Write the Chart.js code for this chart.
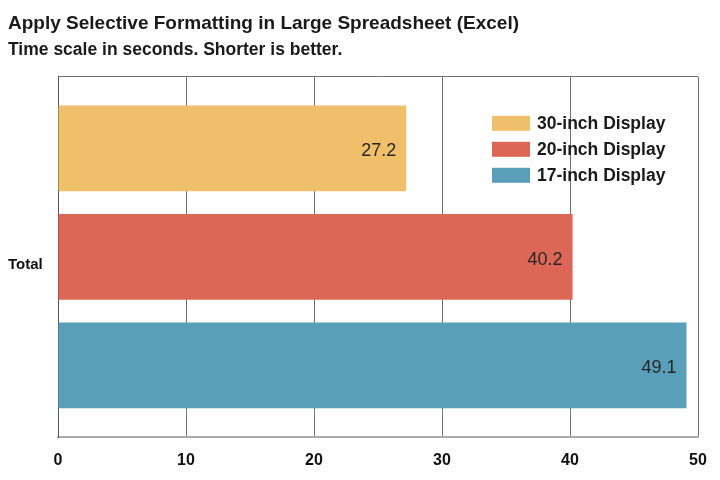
<!DOCTYPE html>
<html>
<head>
<meta charset="utf-8">
<script src="https://cdn.jsdelivr.net/npm/chart.js@4"></script>
<style>
  html, body { margin: 0; padding: 0; background: #fff; }
</style>
</head>
<body>
<canvas id="chart" width="720" height="480"></canvas>
<script>
// 데이터
const categories = ['Total'];
const seriesNames = ['30-inch Display', '20-inch Display', '17-inch Display'];
const seriesValues = [[27.2], [40.2], [49.1]];
const seriesColors = ['#F0BF6A', '#DC6756', '#5A9FBA'];
const xTicks = [0, 10, 20, 30, 40, 50];

const FONT = "'Liberation Sans', Arial, sans-serif";

/**
 * 막대 끝 값 라벨
 */
const valueLabels = {
  id: 'valueLabels',
  afterDatasetsDraw(chart) {
    const ctx = chart.ctx;
    ctx.save();
    ctx.font = "18px 'Liberation Sans', Arial, sans-serif";
    ctx.fillStyle = '#262626';
    ctx.textAlign = 'right';
    ctx.textBaseline = 'middle';
    chart.data.datasets.forEach((ds, i) => {
      chart.getDatasetMeta(i).data.forEach((bar, j) => {
        ctx.fillText(ds.data[j].toFixed(1), bar.x - 10, bar.y + 3);
      });
    });
    ctx.restore();
  }
};

/**
 * 차트 안쪽 범례
 */
const innerLegend = {
  id: 'innerLegend',
  afterDraw(chart) {
    const ctx = chart.ctx;
    const area = chart.chartArea;
    const left = area.right - 206;
    ctx.save();
    ctx.font = 'bold 17.5px ' + FONT;
    ctx.textBaseline = 'middle';
    chart.data.datasets.forEach((ds, i) => {
      const cy = area.top + 46 + i * 26;
      ctx.fillStyle = ds.backgroundColor;
      ctx.fillRect(left, cy - 7, 38, 15);
      ctx.fillStyle = '#1a1a1a';
      ctx.fillText(ds.label, left + 45, cy + 1);
    });
    ctx.restore();
  }
};

new Chart(document.getElementById('chart'), {
  type: 'bar',
  data: {
    labels: categories,
    datasets: seriesNames.map((name, i) => ({
      label: name,
      data: seriesValues[i],
      backgroundColor: seriesColors[i],
      categoryPercentage: 0.904,
      barPercentage: 0.79
    }))
  },
  options: {
    indexAxis: 'y',
    responsive: false,
    animation: false,
    layout: { padding: { left: 8, right: 22, top: 0, bottom: 0 } },
    plugins: {
      legend: { display: false },
      tooltip: { enabled: false },
      title: {
        display: true,
        text: 'Apply Selective Formatting in Large Spreadsheet (Excel)',
        align: 'start',
        color: '#1a1a1a',
        font: { family: FONT, size: 19, weight: 'bold' },
        padding: { top: 12, bottom: 5 }
      },
      subtitle: {
        display: true,
        text: 'Time scale in seconds. Shorter is better.',
        align: 'start',
        color: '#1a1a1a',
        font: { family: FONT, size: 17.5, weight: 'bold' },
        padding: { top: 0, bottom: 16 }
      }
    },
    scales: {
      x: {
        min: 0,
        max: 50,
        afterBuildTicks(scale) {
          scale.ticks = xTicks.map(v => ({ value: v }));
        },
        afterFit(scale) {
          scale.height = 43;
          scale.paddingRight = 0;
          scale.paddingLeft = 0;
        },
        grid: { color: '#6f6f6f', lineWidth: 1, drawTicks: false },
        border: { color: '#aaa', width: 2 },
        ticks: {
          color: '#111',
          padding: 14,
          font: { family: FONT, size: 16, weight: 'bold' }
        }
      },
      y: {
        grid: { color: '#6f6f6f', lineWidth: 1, drawTicks: false },
        border: { color: '#555', width: 1 },
        afterFit(scale) { scale.width = 50; },
        ticks: {
          color: '#111',
          padding: 8,
          labelOffset: 8,
          crossAlign: 'far',
          font: { family: FONT, size: 15, weight: 'bold' }
        }
      }
    }
  },
  plugins: [valueLabels, innerLegend]
});
</script>
</body>
</html>
